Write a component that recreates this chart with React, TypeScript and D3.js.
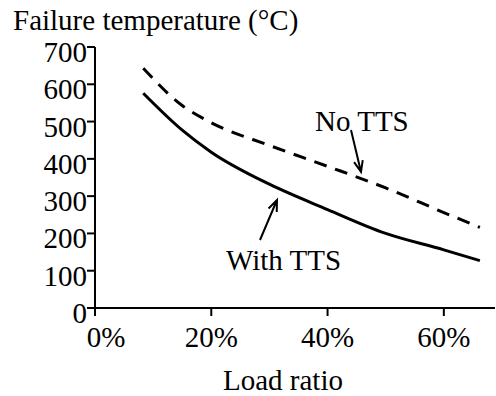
import * as d3 from 'd3'
import React from 'react'

// data
const loadRatio = [8.3, 15, 20, 30, 40, 50, 60, 66.2]
const withTTS = [576, 477, 418, 332, 264, 200, 156, 127]
const noTTS = [643, 543, 497, 436, 380, 322, 256, 216]
const yTicks = [0, 100, 200, 300, 400, 500, 600, 700]
const xTicks = [0, 20, 40, 60]

const W = 496, H = 396

export default function App() {
    const x = d3.scaleLinear().domain([0, 68.8]).range([95, 495])
    const y = d3.scaleLinear().domain([0, 700]).range([308, 47])

    const line = d3.line<number>()
        .x((d, i) => x(loadRatio[i]))
        .y(d => y(d))
        .curve(d3.curveMonotoneX)

    // annotation arrows (open V heads)
    const arrow = (x1: number, y1: number, x2: number, y2: number) => {
        const a = Math.atan2(y2 - y1, x2 - x1)
        const L = 12, s = 0.38
        const p1 = [x2 - L * Math.cos(a - s), y2 - L * Math.sin(a - s)]
        const p2 = [x2 - L * Math.cos(a + s), y2 - L * Math.sin(a + s)]
        return `M${x1},${y1}L${x2},${y2}M${p1[0]},${p1[1]}L${x2},${y2}L${p2[0]},${p2[1]}`
    }

    return (
        <div style={{ position: 'absolute', left: 0, top: 0, width: W, height: H }}>
            <svg width={W} height={H}>
                <text x={13} y={30} fontSize={29} style={{ fontFamily: `'Liberation Serif'` }}>Failure temperature (°C)</text>

                {/* y axis */}
                <line x1={x(0)} x2={x(0)} y1={y(700)} y2={y(0)} stroke="black" strokeWidth={2} />
                {yTicks.map(t => (
                    <g key={t}>
                        <line x1={x(0) - 8} x2={x(0)} y1={y(t)} y2={y(t)} stroke="black" strokeWidth={2} />
                        <text x={x(0) - 8} y={y(t) + 15} fontSize={29} textAnchor="end"
                            style={{ fontFamily: `'Liberation Serif'` }}>{t}</text>
                    </g>
                ))}

                {/* x axis */}
                <line x1={x(0) - 8} x2={x(68.8)} y1={y(0)} y2={y(0)} stroke="black" strokeWidth={2} />
                {xTicks.map(t => (
                    <g key={t}>
                        <line x1={x(t)} x2={x(t)} y1={y(0)} y2={y(0) + 8} stroke="black" strokeWidth={2} />
                        <text x={t === 0 ? x(t) + 11 : x(t)} y={347} fontSize={29} textAnchor="middle"
                            style={{ fontFamily: `'Liberation Serif'` }}>{t}%</text>
                    </g>
                ))}
                <text x={283} y={390} fontSize={29} textAnchor="middle" style={{ fontFamily: `'Liberation Serif'` }}>Load ratio</text>

                {/* series */}
                <path d={line(noTTS) || ''} fill="none" stroke="black" strokeWidth={3} strokeDasharray="13 9" />
                <path d={line(withTTS) || ''} fill="none" stroke="black" strokeWidth={3} />

                {/* labels */}
                <text x={315} y={131} fontSize={29} style={{ fontFamily: `'Liberation Serif'` }}>No TTS</text>
                <path d={arrow(351, 130, 361, 172)} fill="none" stroke="black" strokeWidth={2} />
                <text x={226} y={270} fontSize={29} style={{ fontFamily: `'Liberation Serif'` }}>With TTS</text>
                <path d={arrow(260, 240, 277, 200)} fill="none" stroke="black" strokeWidth={2} />
            </svg>
        </div>
    )
}
